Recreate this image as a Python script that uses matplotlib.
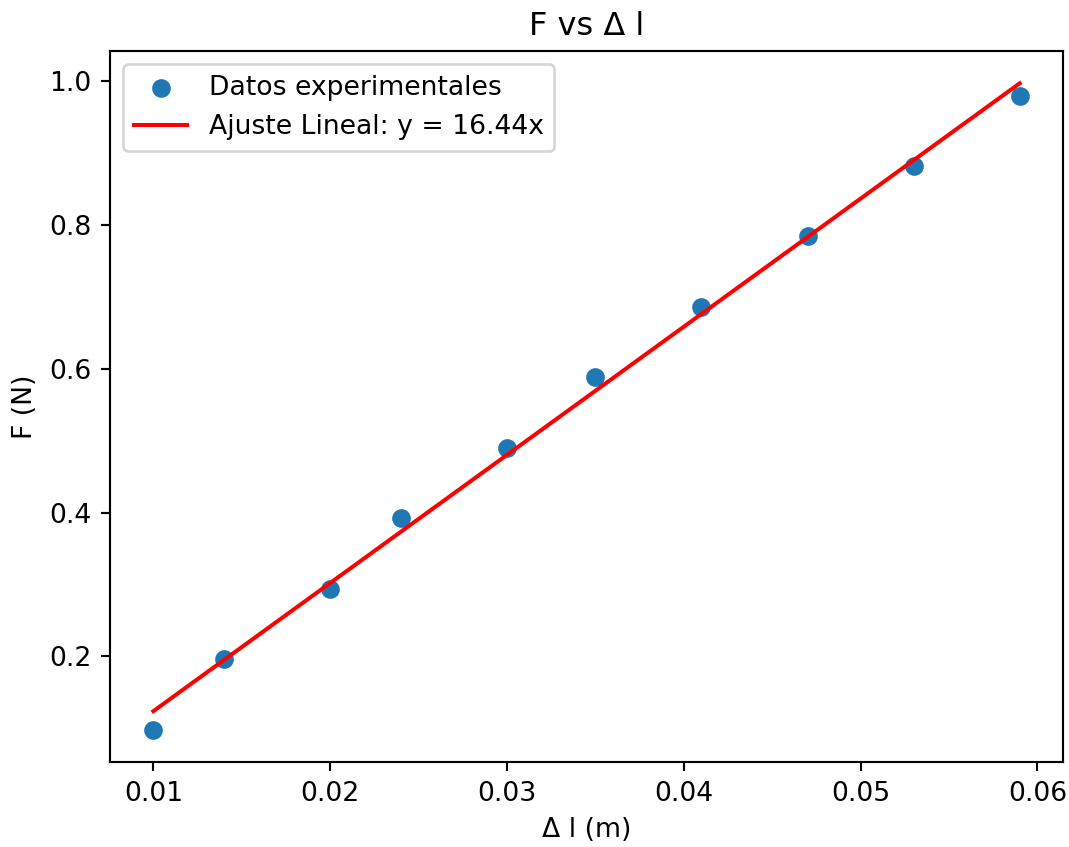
import numpy as np
import matplotlib
matplotlib.use("Agg")
import matplotlib.pyplot as plt

# Data
delta_l = [0.010, 0.014, 0.020, 0.024, 0.030, 0.035, 0.041, 0.047, 0.053, 0.059]
fuerza = [0.098, 0.196, 0.294, 0.392, 0.490, 0.588, 0.686, 0.784, 0.882, 0.980]
fit_label = "Ajuste Lineal: y = 16.44x"

x = np.array(delta_l)
y = np.array(fuerza)
coef = np.polyfit(x, y, 1)
y_fit = np.polyval(coef, x)

DPI = 192
fig = plt.figure(figsize=(1069 / DPI, 847 / DPI), dpi=DPI)
ax = fig.add_axes([110 / 1069, 1 - 762 / 847, (1063 - 110) / 1069, (762 - 51) / 847])

ax.scatter(x, y, label="Datos experimentales")
ax.plot(x, y_fit, color="red", label=fit_label)

ax.set_title("F vs Δ l", fontsize=12)
ax.set_xlabel("Δ l (m)")
ax.set_ylabel("F (N)")
ax.legend(loc="upper left")

fig.savefig("out.png", dpi=DPI)
